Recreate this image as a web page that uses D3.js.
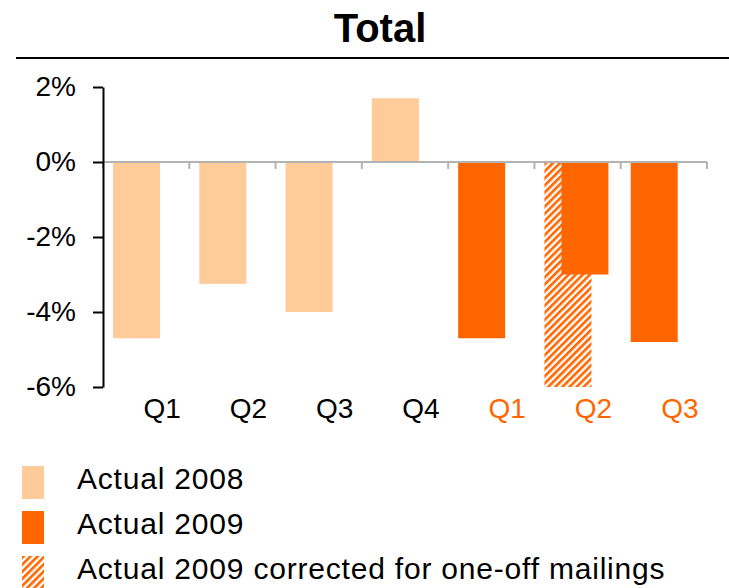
<!DOCTYPE html>
<html>
<head>
<meta charset="utf-8">
<script src="https://cdn.jsdelivr.net/npm/d3@7"></script>
<style>
  body { margin: 0; background: #fff; }
  text { font-family: "Liberation Sans", Arial, sans-serif; }
</style>
</head>
<body>
<script>
let quarters = ["Q1", "Q2", "Q3", "Q4", "Q1", "Q2", "Q3"];
let years = ["2008", "2008", "2008", "2008", "2009", "2009", "2009"];
let values = [-4.7, -3.25, -4.0, 1.7, -4.7, -3.0, -4.8];
let corrected = [null, null, null, null, null, -6.0, null];
let yTicks = [2, 0, -2, -4, -6];
let legendLabels = ["Actual 2008", "Actual 2009", "Actual 2009 corrected for one-off mailings"];

let light = "#ffcc99", dark = "#ff6600";

let svgWidth = 729, svgHeight = 588;
let plot = { left: 103, right: 707, top: 87, bottom: 387 };

let svg = d3.select("body").append("svg")
    .attr("width", svgWidth)
    .attr("height", svgHeight);

let defs = svg.append("defs");
let pattern = defs.append("pattern")
    .attr("id", "hatch")
    .attr("patternUnits", "userSpaceOnUse")
    .attr("width", 5)
    .attr("height", 5)
    .attr("patternTransform", "rotate(45)");
pattern.append("rect").attr("width", 5).attr("height", 5).attr("fill", "#fff");
pattern.append("rect").attr("width", 2.6).attr("height", 5).attr("fill", dark);

// title
svg.append("text")
    .attr("x", 380)
    .attr("y", 42)
    .attr("text-anchor", "middle")
    .style("font-weight", "bold")
    .style("font-size", "40px")
    .text("Total");

svg.append("line")
    .attr("x1", 16).attr("x2", 729)
    .attr("y1", 58).attr("y2", 58)
    .attr("stroke", "#000")
    .attr("stroke-width", 2);

let x = d3.scaleBand()
    .domain(d3.range(quarters.length))
    .range([plot.left, plot.right])
    .padding(0);

let y = d3.scaleLinear()
    .domain([-6, 2])
    .range([plot.bottom, plot.top]);

let bw = x.bandwidth();
let barW = 47;
let barOff = 10;

// corrected (hatched) bars behind
svg.selectAll(".corr")
    .data(corrected.map((v, i) => ({ v, i })).filter(d => d.v !== null))
    .enter().append("rect")
    .attr("x", d => x(d.i) + barOff)
    .attr("width", barW)
    .attr("y", d => y(Math.max(0, d.v)))
    .attr("height", d => Math.abs(y(d.v) - y(0)))
    .attr("fill", "url(#hatch)");

// main bars
svg.selectAll(".bar")
    .data(values.map((v, i) => ({ v, i })))
    .enter().append("rect")
    .attr("x", d => x(d.i) + barOff + (corrected[d.i] !== null ? 17 : 0))
    .attr("width", barW)
    .attr("y", d => y(Math.max(0, d.v)))
    .attr("height", d => Math.abs(y(d.v) - y(0)))
    .attr("fill", d => years[d.i] === "2008" ? light : dark);

// x axis at zero (gray)
let xAxisG = svg.append("g")
    .attr("transform", "translate(0," + y(0) + ")");
xAxisG.append("line")
    .attr("x1", plot.left).attr("x2", plot.right)
    .attr("stroke", "#b3b3b3").attr("stroke-width", 2);
xAxisG.selectAll(".xt")
    .data(d3.range(quarters.length + 1))
    .enter().append("line")
    .attr("x1", i => plot.left + i * bw)
    .attr("x2", i => plot.left + i * bw)
    .attr("y1", 0).attr("y2", 7)
    .attr("stroke", "#b3b3b3").attr("stroke-width", 2);

// y axis
let yAxis = d3.axisLeft(y)
    .tickValues(yTicks)
    .tickSize(10)
    .tickSizeOuter(0)
    .tickPadding(17)
    .tickFormat(d => d + "%");
let yG = svg.append("g")
    .attr("transform", "translate(" + plot.left + ",0)")
    .call(yAxis);
yG.select(".domain").attr("stroke", "#000").attr("stroke-width", 2);
yG.selectAll(".tick line").attr("stroke", "#000").attr("stroke-width", 2);
yG.selectAll(".tick text")
    .attr("fill", "#000")
    .style("font-family", "'Liberation Sans', Arial, sans-serif")
    .style("font-size", "28px");

// x labels
svg.selectAll(".xl")
    .data(quarters)
    .enter().append("text")
    .attr("x", (d, i) => x(i) + bw * 0.685)
    .attr("y", 418)
    .attr("text-anchor", "middle")
    .style("font-size", "28px")
    .attr("fill", (d, i) => years[i] === "2008" ? "#000" : dark)
    .text(d => d);

// legend
let legendFills = [light, dark, "url(#hatch)"];
let lg = svg.selectAll(".lg")
    .data(legendLabels)
    .enter().append("g")
    .attr("transform", (d, i) => "translate(22," + (466 + i * 45) + ")");
lg.append("rect")
    .attr("width", 22).attr("height", 33)
    .attr("fill", (d, i) => legendFills[i]);
lg.append("text")
    .attr("x", 55)
    .attr("y", 23)
    .style("font-size", "30px")
    .style("letter-spacing", "0.8px")
    .text(d => d);
</script>
</body>
</html>
